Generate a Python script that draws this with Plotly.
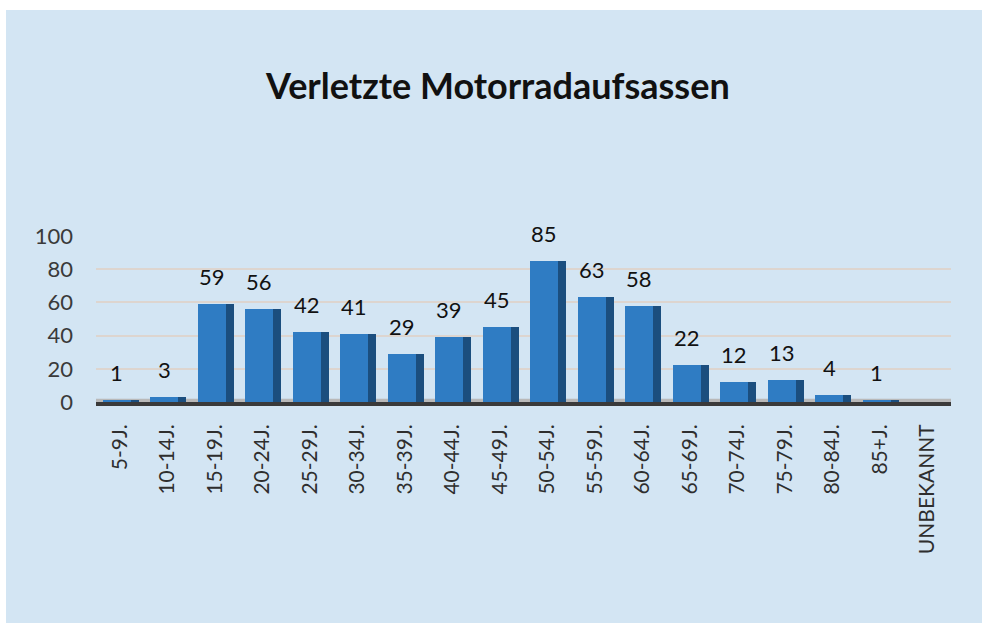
import plotly.graph_objects as go

categories = ["5-9J.", "10-14J.", "15-19J.", "20-24J.", "25-29J.", "30-34J.", "35-39J.",
              "40-44J.", "45-49J.", "50-54J.", "55-59J.", "60-64J.", "65-69J.", "70-74J.",
              "75-79J.", "80-84J.", "85+J.", "UNBEKANNT"]
values = [1, 3, 59, 56, 42, 41, 29, 39, 45, 85, 63, 58, 22, 12, 13, 4, 1, 0]
labels = ["1", "3", "59", "56", "42", "41", "29", "39", "45", "85", "63", "58", "22", "12", "13", "4", "1", ""]
y_ticks = [0, 20, 40, 60, 80, 100]

W, H = 982, 623
L, R, T, B = 96, 31, 236, 221
BG = "#d3e5f3"
FONT = "Lato"

idx = list(range(len(categories)))
front_off, front_w = -0.36, 0.59
side_w = 0.17

fig = go.Figure()
# front face
fig.add_trace(go.Bar(
    x=idx, y=values, offset=front_off, width=front_w,
    marker=dict(color="#2f7cc3", line=dict(width=0)),
    hoverinfo="skip", showlegend=False))
# side face (3D depth)
fig.add_trace(go.Bar(
    x=idx, y=values, offset=front_off + front_w, width=side_w,
    marker=dict(color="#1b4e7e", line=dict(width=0)),
    hoverinfo="skip", showlegend=False))

for i, (v, t) in enumerate(zip(values, labels)):
    if not t:
        continue
    fig.add_annotation(x=i + front_off + front_w / 2, y=v, text=t, showarrow=False,
                       yanchor="bottom", yshift=12,
                       font=dict(family=FONT, size=22, color="#111111"))

pw, ph = W - L - R, H - T - B
fig.update_layout(
    width=W, height=H,
    margin=dict(l=L, r=R, t=T, b=B),
    paper_bgcolor=BG, plot_bgcolor=BG,
    barmode="overlay", bargap=0,
    title=dict(text="<b>Verletzte Motorradaufsassen</b>", x=0.507, xanchor="center",
               y=1 - 86 / H, yanchor="middle",
               font=dict(family=FONT, size=36, color="#111111")),
    xaxis=dict(
        tickmode="array", tickvals=idx, ticktext=categories,
        range=[-0.5, len(categories) - 0.5],
        tickangle=-90, showgrid=False, zeroline=False,
        showline=True, linecolor="#3a3a3a", linewidth=4,
        ticks="", ticklabelstandoff=10,
        tickfont=dict(family=FONT, size=21, color="#2e2e2e")),
    yaxis=dict(
        range=[0, 100], tickvals=y_ticks, ticktext=[str(v) for v in y_ticks],
        showgrid=True, gridcolor="#ddd5cf", gridwidth=2,
        zeroline=False, showline=False, ticks="", ticklabelstandoff=22,
        tickfont=dict(family=FONT, size=22, color="#3a3a3a")),
    shapes=[
        # top white strip
        dict(type="rect", xref="paper", yref="paper",
             x0=-L / pw - 0.02, x1=1 + R / pw + 0.02,
             y0=1 + (T - 10) / ph, y1=1 + T / ph + 0.02,
             fillcolor="white", line=dict(width=0), layer="below"),
        # left white strip
        dict(type="rect", xref="paper", yref="paper",
             x0=-L / pw - 0.02, x1=-(L - 6) / pw,
             y0=-B / ph - 0.02, y1=1 + T / ph + 0.02,
             fillcolor="white", line=dict(width=0), layer="below"),
        # floor strip
        dict(type="rect", xref="paper", yref="y",
             x0=0, x1=1, y0=0, y1=2,
             fillcolor="#b9b9b9", line=dict(width=0), layer="below"),
    ],
)

fig.write_html(
    "out.html", config={"displayModeBar": False},
    post_script=("document.body.style.margin='0';"
                 "document.body.style.overflow='hidden';"
                 "document.body.style.background='" + BG + "';"
                 "document.documentElement.style.background='" + BG + "';"))
